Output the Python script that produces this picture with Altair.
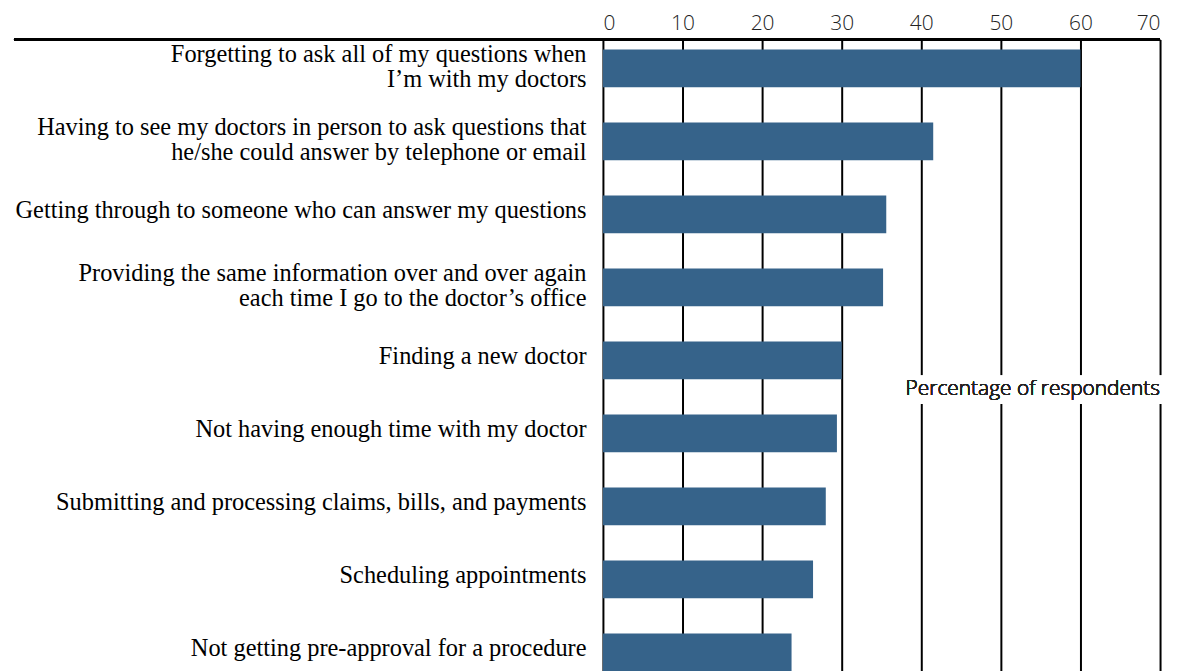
import altair as alt
import pandas as pd

categories = [
    "Forgetting to ask all of my questions when|I\u2019m with my doctors",
    "Having to see my doctors in person to ask questions that|he/she could answer by telephone or email",
    "Getting through to someone who can answer my questions",
    "Providing the same information over and over again|each time I go to the doctor\u2019s office",
    "Finding a new doctor",
    "Not having enough time with my doctor",
    "Submitting and processing claims, bills, and payments",
    "Scheduling appointments",
    "Not getting pre-approval for a procedure",
]
values = [60.0, 41.5, 35.6, 35.2, 30.0, 29.4, 28.0, 26.4, 23.7]
tick_values = [0, 10, 20, 30, 40, 50, 60, 70]
axis_title = "Percentage of respondents"

df = pd.DataFrame({"cat": categories, "val": values})

W, H = 560, 645
BAR = "#36638A"
SANS = "Open Sans"

x_scale = alt.Scale(domain=[0, 70], nice=False)
y_scale = alt.Scale(paddingInner=0.482, paddingOuter=0.136)

bars = alt.Chart(df).mark_bar(color=BAR).encode(
    x=alt.X("val:Q", scale=x_scale,
            axis=alt.Axis(orient="top", values=tick_values, grid=True,
                          gridColor="black", gridWidth=2, gridOpacity=1,
                          domain=False, ticks=False, tickSize=0,
                          labelPadding=10, labelBaseline="alphabetic",
                          labelFontSize=21,
                          labelFont=SANS, labelFontWeight=300,
                          labelColor="#222222", title=None)),
    y=alt.Y("cat:N", sort=categories, scale=y_scale,
            axis=alt.Axis(labelExpr="split(datum.label, '|')",
                          labelFont="Liberation Serif", labelFontSize=24.5,
                          labelLineHeight=25, labelColor="black",
                          labelPadding=17, labelLimit=700,
                          labelOffset={"condition": {"test": "indexof(datum.label, '|') >= 0", "value": -13},
                                       "value": -3},
                          domain=False, ticks=False, tickSize=0,
                          title=None)),
)

topline = alt.Chart(df).mark_rule(color="black", strokeWidth=2).encode(
    x=alt.value(-592), x2=alt.value(W), y=alt.value(0)
)

box = alt.Chart(df).mark_rect(color="white").encode(
    x=alt.datum(37.0), x2=alt.datum(70.6), y=alt.value(338), y2=alt.value(366)
)

label = alt.Chart(df).mark_text(
    align="right", baseline="middle", fontSize=21, font=SANS,
    fontWeight=300, color="#222222"
).encode(x=alt.datum(70), y=alt.value(351), text=alt.value(axis_title))

chart = alt.layer(bars, box, topline, label).properties(
    width=W, height=H,
    autosize=alt.AutoSizeParams(type="none"),
    padding={"left": 598, "top": 30, "right": 10, "bottom": 10},
).configure_view(stroke=None)

chart.save("out.html", embed_options={"renderer": "svg", "actions": False})
